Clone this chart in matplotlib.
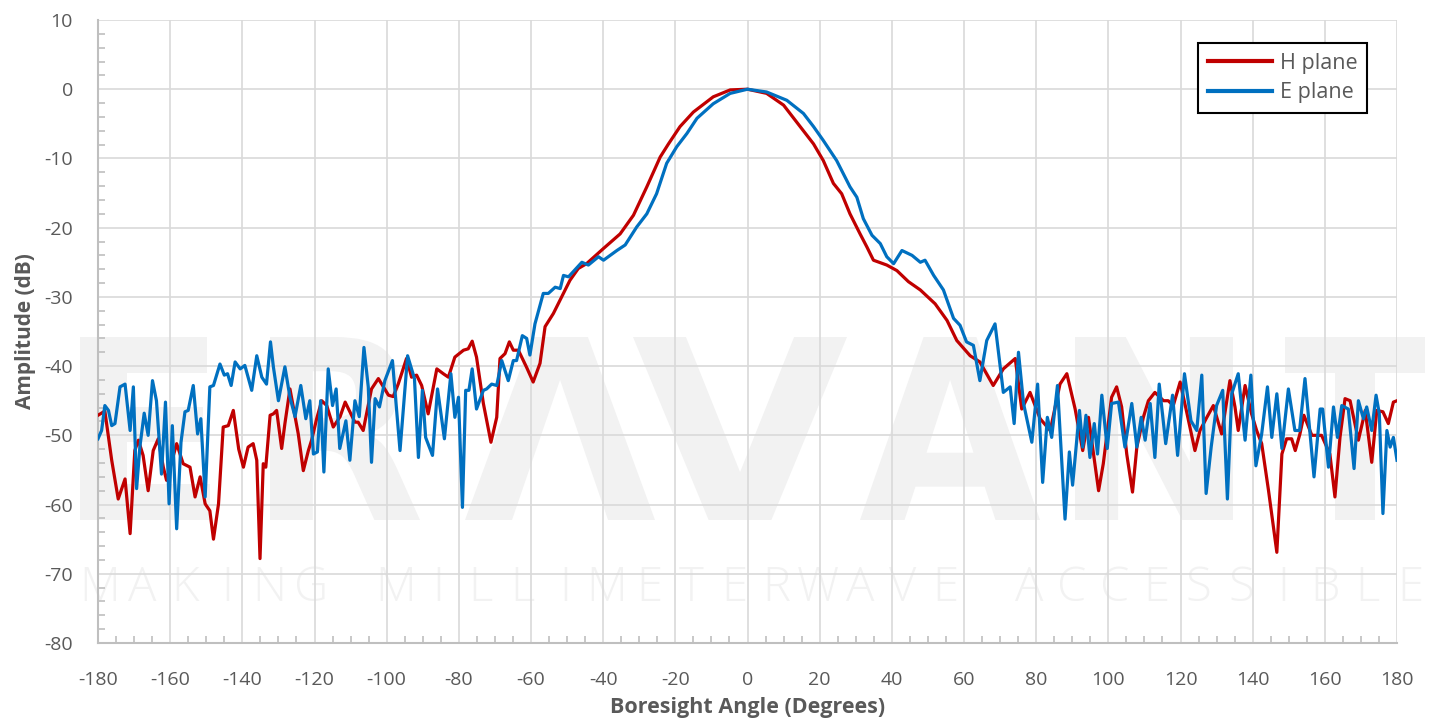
import matplotlib
matplotlib.use('Agg')
import matplotlib.pyplot as plt
from matplotlib.ticker import MultipleLocator
from matplotlib.textpath import TextPath
from matplotlib.patches import PathPatch
from matplotlib.font_manager import FontProperties
from matplotlib.transforms import Affine2D

# H plane trace (angle in degrees, amplitude in dB)
h_angle = [-180, -178.1, -176.2, -174.4, -172.5, -171.1, -169.8, -168.8, -167.5, -166.1,
           -164.7, -163.3, -161.9, -161.0, -158.2, -156.4, -154.5, -153.1, -151.7, -150.3,
           -149.0, -148.0, -146.6, -145.3, -143.9, -142.5, -141.0, -139.7, -138.4, -137.0,
           -136.0, -135.1, -134.2, -133.5, -132.3, -131.4, -130.5, -129.1, -128.2, -126.8,
           -125.4, -124.5, -123.1, -121.7, -120.8, -119.4, -118.0, -116.6, -114.8, -112.9,
           -111.5, -110.2, -108.8, -107.9, -106.5, -104.2, -102.3, -100.9, -99.5, -98.2,
           -96.8, -94.5, -93.1, -91.7, -90.3, -88.5, -86.1, -84.3, -82.9, -81.1,
           -78.7, -77.4, -76.3, -75.1, -73.2, -71.1, -69.5, -68.6, -67.2, -66.0,
           -64.9, -63.5, -62.1, -61.2, -59.4, -57.5, -56.1, -53.8, -51.5, -49.2,
           -46.9, -44.6, -39.9, -35.3, -31.6, -27.9, -24.2, -21.9, -18.7, -15.0,
           -9.5, -4.8, 0, 5.3, 10.0, 14.6, 18.3, 21.0, 23.8, 26.1,
           28.4, 31.2, 33.1, 34.9, 38.6, 41.4, 44.6, 47.9, 52.0, 55.3,
           58.0, 61.7, 64.4, 68.1, 70.9, 74.2, 76.0, 78.3, 81.1, 83.9,
           86.6, 88.5, 90.8, 92.9, 94.5, 97.3, 98.6, 100.9, 102.3, 103.7,
           105.1, 106.7, 107.9, 109.7, 111.1, 112.9, 115.3, 116.6, 118.0, 119.9,
           121.7, 124.0, 125.4, 127.3, 129.1, 131.4, 133.7, 135.1, 136.0, 137.9,
           139.7, 141.1, 142.5, 144.4, 146.7, 148.1, 149.4, 150.8, 151.8, 153.1,
           154.2, 156.4, 159.1, 161.4, 162.8, 164.2, 165.6, 167.0, 169.3, 171.2,
           173.0, 174.4, 176.1, 177.6, 179.0, 180]
h_db = [-47.1, -46.5, -53.6, -59.2, -56.3, -64.2, -52.2, -50.7, -52.9, -58.0,
        -52.2, -50.5, -54.6, -56.5, -51.2, -54.1, -54.6, -58.9, -56.0, -59.9,
        -60.9, -65.0, -59.9, -48.8, -48.6, -46.4, -52.0, -54.6, -51.7, -51.2,
        -53.6, -67.8, -54.1, -54.6, -47.1, -46.9, -46.4, -51.9, -48.3, -43.3,
        -47.3, -49.8, -55.1, -52.2, -50.7, -47.6, -45.0, -45.7, -48.8, -47.3,
        -45.2, -46.6, -48.1, -48.1, -49.3, -43.3, -41.8, -43.0, -44.2, -44.4,
        -42.6, -38.9, -41.6, -41.3, -42.8, -46.9, -40.4, -41.1, -41.6, -38.7,
        -37.7, -37.5, -36.4, -38.7, -45.4, -51.0, -47.4, -38.9, -38.2, -36.5,
        -37.7, -37.7, -39.2, -40.2, -42.3, -39.6, -34.3, -32.4, -30.0, -27.6,
        -25.9, -25.2, -23.0, -20.9, -18.2, -14.1, -9.8, -7.9, -5.4, -3.3,
        -1.1, -0.1, 0.0, -0.6, -2.3, -5.4, -7.9, -10.3, -13.6, -15.1,
        -18.0, -20.9, -22.8, -24.7, -25.4, -26.2, -27.8, -29.0, -31.0, -33.4,
        -36.3, -38.5, -39.4, -42.8, -40.4, -38.9, -46.2, -43.8, -47.6, -49.3,
        -42.6, -41.1, -46.2, -52.2, -47.4, -58.0, -54.1, -44.5, -43.0, -45.9,
        -52.7, -58.2, -51.7, -47.4, -45.0, -43.8, -45.0, -45.0, -45.7, -42.3,
        -46.6, -52.2, -49.3, -47.4, -45.7, -49.8, -42.1, -45.9, -49.3, -42.8,
        -46.9, -49.3, -51.2, -58.0, -66.9, -52.7, -50.5, -50.5, -52.2, -49.8,
        -47.1, -50.0, -50.0, -52.7, -58.9, -50.3, -44.7, -45.0, -50.7, -46.4,
        -53.9, -46.4, -46.6, -48.3, -45.2, -45.0]

# E plane trace
e_angle = [-180, -179.0, -178.1, -177.1, -176.2, -175.3, -173.9, -172.5, -171.1, -170.2,
           -169.3, -168.4, -167.2, -166.1, -164.9, -163.8, -162.4, -161.3, -160.3, -159.4,
           -158.2, -157.0, -155.9, -155.0, -153.6, -152.4, -151.5, -150.3, -149.0, -148.0,
           -146.2, -145.0, -144.1, -143.1, -142.0, -140.6, -139.3, -137.4, -136.0, -134.6,
           -133.3, -132.2, -131.4, -130.0, -128.2, -126.8, -125.4, -123.8, -122.4, -121.3,
           -120.3, -119.2, -118.3, -117.4, -116.2, -115.0, -114.0, -113.0, -111.3, -110.2,
           -108.8, -107.6, -106.3, -105.1, -104.2, -103.2, -102.0, -100.5, -98.4, -96.3,
           -94.2, -92.3, -91.2, -90.1, -89.2, -87.3, -85.9, -84.0, -82.2, -81.1,
           -80.1, -79.0, -78.1, -77.2, -76.3, -75.1, -73.2, -72.3, -70.9, -69.5,
           -68.1, -66.3, -64.9, -64.0, -62.4, -61.2, -60.3, -58.9, -56.6, -55.2,
           -53.3, -51.9, -51.0, -49.6, -45.9, -44.1, -41.3, -39.9, -36.2, -33.9,
           -30.7, -27.9, -25.2, -22.4, -19.6, -16.8, -14.0, -9.5, -4.8, 0,
           5.3, 10.9, 15.5, 18.3, 21.0, 24.7, 28.4, 30.3, 32.1, 34.5,
           36.8, 38.6, 40.5, 42.8, 45.6, 47.9, 49.2, 51.6, 54.3, 57.1,
           58.9, 60.7, 62.6, 64.4, 66.3, 68.6, 70.9, 72.8, 73.9, 75.1,
           76.5, 78.8, 80.4, 81.8, 83.1, 84.3, 85.9, 88.0, 89.2, 90.1,
           92.0, 92.9, 93.8, 94.9, 96.1, 97.0, 98.2, 99.7, 100.9, 102.8,
           104.6, 106.5, 107.9, 109.1, 110.2, 111.6, 112.9, 114.1, 115.9, 117.8,
           119.2, 121.1, 122.9, 124.5, 125.9, 127.1, 128.5, 130.0, 131.7, 133.0,
           134.2, 136.0, 137.9, 139.5, 140.9, 142.5, 144.1, 145.3, 146.7, 148.1,
           149.9, 151.7, 153.0, 154.5, 157.0, 158.7, 159.4, 161.0, 162.4, 163.5,
           164.7, 166.5, 168.1, 169.3, 170.7, 171.6, 173.0, 174.2, 175.1, 176.1,
           177.2, 178.1, 179.0, 180]
e_db = [-50.5, -49.3, -45.7, -46.4, -48.6, -48.3, -43.0, -42.6, -49.3, -43.0,
        -57.7, -51.7, -46.8, -50.0, -42.1, -45.0, -55.6, -45.2, -59.9, -48.6,
        -63.5, -51.0, -46.6, -46.4, -42.8, -49.8, -47.6, -58.9, -43.0, -42.8,
        -39.7, -41.3, -41.1, -42.8, -39.4, -40.4, -39.9, -43.5, -38.5, -41.6,
        -42.6, -36.5, -40.1, -45.0, -40.1, -44.5, -47.3, -42.8, -47.6, -45.0,
        -52.7, -52.4, -45.0, -55.3, -40.4, -45.7, -43.3, -51.9, -47.9, -53.6,
        -45.0, -47.3, -37.3, -43.0, -53.9, -44.7, -45.9, -42.1, -39.2, -52.2,
        -38.5, -41.8, -53.2, -43.5, -50.3, -52.9, -43.3, -50.5, -41.1, -47.4,
        -44.5, -60.4, -43.5, -43.5, -40.4, -46.2, -43.5, -43.3, -42.6, -42.8,
        -39.2, -42.1, -39.2, -39.2, -35.6, -36.0, -38.4, -33.9, -29.5, -29.5,
        -28.6, -28.8, -26.9, -27.1, -25.0, -25.4, -24.2, -24.7, -23.3, -22.5,
        -19.9, -18.0, -15.1, -10.7, -8.3, -6.4, -4.2, -2.1, -0.6, 0.0,
        -0.4, -1.6, -3.5, -5.4, -7.4, -10.3, -14.1, -15.6, -18.7, -21.1,
        -22.3, -24.2, -25.2, -23.3, -24.0, -25.0, -24.7, -26.9, -29.0, -33.1,
        -34.1, -36.5, -37.0, -42.1, -36.3, -33.9, -43.8, -43.0, -48.3, -38.0,
        -45.4, -51.0, -42.6, -56.8, -47.4, -50.3, -42.8, -62.1, -52.4, -57.2,
        -46.4, -51.7, -47.1, -53.2, -48.3, -52.7, -44.2, -51.9, -45.4, -45.2,
        -51.7, -45.4, -51.7, -47.4, -50.7, -45.4, -53.2, -42.6, -51.2, -44.2,
        -52.9, -41.1, -47.9, -49.3, -41.3, -58.4, -51.7, -45.7, -43.5, -59.2,
        -44.0, -41.1, -50.7, -41.3, -54.4, -49.8, -43.0, -50.3, -44.0, -51.9,
        -43.3, -49.3, -49.3, -41.8, -56.0, -46.2, -46.2, -54.6, -45.9, -50.3,
        -45.7, -46.2, -54.8, -45.0, -47.6, -45.9, -49.3, -44.2, -46.9, -61.3,
        -49.3, -51.7, -50.3, -53.6]

x_ticks = list(range(-180, 181, 20))
y_ticks = list(range(-80, 11, 10))

# watermark letters and the horizontal span (figure pixels) each one covers
wm_letters = ['E', 'R', 'Λ', 'V', 'A', 'N', 'T']
wm_spans = [(80, 210), (270, 420), (465, 655), (633, 847), (860, 1040), (1075, 1233), (1285, 1425)]
wm_tag = 'MAKING MILLIMETERWAVE ACCESSIBLE'

W, H = 1431, 727
txt = '#595959'
axc = '#bfbfbf'
wm = '#f2f2f2'
plt.rcParams['font.family'] = ['Open Sans', 'DejaVu Sans']
plt.rcParams['axes.unicode_minus'] = False

fig = plt.figure(figsize=(W / 100, H / 100), dpi=100)
ax = fig.add_axes([98 / W, 84 / H, 1299 / W, 623 / H])
ax.set_zorder(1)
ax.patch.set_alpha(0)

# faint logo behind the plot
fp = FontProperties(family='DejaVu Sans', weight='bold')
top, bot = (H - 337) / H, (H - 520) / H
for ch, (x0, x1) in zip(wm_letters, wm_spans):
    p = TextPath((0, 0), ch, size=100, prop=fp)
    e = p.get_extents()
    tr = (Affine2D().translate(-e.x0, -e.y0)
          .scale((x1 - x0) / W / e.width, (top - bot) / e.height)
          .translate(x0 / W, bot))
    fig.add_artist(PathPatch(tr.transform_path(p), transform=fig.transFigure,
                             fc=wm, ec='none', zorder=0))
n = len(wm_tag)
for i, ch in enumerate(wm_tag):
    fig.text((100 + i * 1310 / (n - 1)) / W, 0.19, ch, ha='center', va='center',
             fontsize=34, color=wm, fontweight='light', zorder=0)

ax.plot(h_angle, h_db, color='#C00000', lw=2.3, label='H plane', zorder=3)
ax.plot(e_angle, e_db, color='#0070C0', lw=2.3, label='E plane', zorder=3)

ax.set_xlim(-180, 180)
ax.set_ylim(-80, 10)
ax.set_xticks(x_ticks)
ax.set_yticks(y_ticks)
ax.xaxis.set_minor_locator(MultipleLocator(5))
ax.yaxis.set_minor_locator(MultipleLocator(2))
ax.grid(True, which='major', color='#d9d9d9', lw=1.2)
ax.set_axisbelow(True)
for s in ['top', 'right']:
    ax.spines[s].set_visible(False)
for s in ['left', 'bottom']:
    ax.spines[s].set_color(axc)
    ax.spines[s].set_linewidth(1.5)
ax.tick_params(which='both', direction='in', color=axc, width=1.2)
ax.tick_params(which='major', length=0, labelsize=14, labelcolor=txt)
ax.tick_params(which='minor', length=5)
ax.tick_params(axis='x', which='major', pad=20)
ax.tick_params(axis='y', which='major', pad=18)

ax.set_xlabel('Boresight Angle (Degrees)', fontsize=15.5, fontweight='bold', color=txt, labelpad=6)
ax.set_ylabel('Amplitude (dB)', fontsize=15, fontweight='bold', color=txt, labelpad=6)

leg = ax.legend(loc='upper right', bbox_to_anchor=(0.977, 0.963), fontsize=15.5,
                frameon=True, fancybox=False, edgecolor='black', framealpha=1,
                handlelength=3.0, handletextpad=0.35, borderpad=0.45,
                labelspacing=0.4, borderaxespad=0)
leg.get_frame().set_linewidth(1.5)
for t in leg.get_texts():
    t.set_color(txt)
for l in leg.get_lines():
    l.set_linewidth(3)

fig.savefig('out.png', dpi=100)
